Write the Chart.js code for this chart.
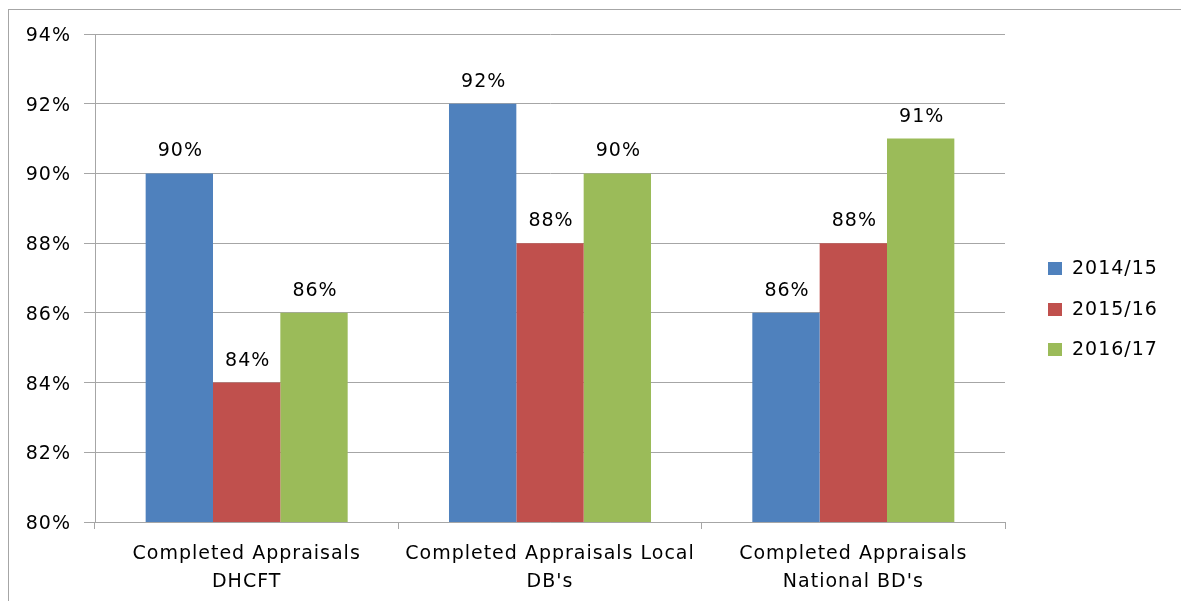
<!DOCTYPE html>
<html>
<head>
<meta charset="utf-8">
<script src="https://cdn.jsdelivr.net/npm/chart.js@4/dist/chart.umd.min.js"></script>
<style>
html,body{margin:0;padding:0;background:#fff;}
canvas{display:block;}
</style>
</head>
<body>
<canvas id="c" width="1181" height="601"></canvas>
<script>
const categories = [
  ["Completed Appraisals", "DHCFT"],
  ["Completed Appraisals Local", "DB's"],
  ["Completed Appraisals", "National BD's"]
];
const seriesNames = ["2014/15", "2015/16", "2016/17"];
const values2014 = [90, 92, 86];
const values2015 = [84, 88, 88];
const values2016 = [86, 90, 91];
const seriesColors = ["#4F81BD", "#C0504D", "#9BBB59"];
const yMin = 80, yMax = 94, yStep = 2;

const FONT = "'DejaVu Sans', Verdana, sans-serif";
const GRID = "#a6a6a6";
const TEXT = "#000";
const SPACING = '1px';

function setSpacing(chart){ try { chart.ctx.letterSpacing = SPACING; } catch(e){} }

const spacingPlugin = {
  id: 'spacing',
  beforeUpdate: setSpacing,
  beforeLayout: setSpacing,
  beforeDraw: setSpacing,
  afterDraw(chart){
    const ctx = chart.ctx;
    ctx.save();
    ctx.letterSpacing = SPACING;
    // outer frame
    ctx.strokeStyle = GRID;
    ctx.lineWidth = 1;
    ctx.strokeRect(8.5, 9.5, 1300, 800);
    // data labels
    ctx.font = "19px " + FONT;
    ctx.fillStyle = TEXT;
    ctx.textAlign = 'center';
    ctx.textBaseline = 'middle';
    chart.data.datasets.forEach((ds, i) => {
      const meta = chart.getDatasetMeta(i);
      meta.data.forEach((bar, j) => {
        ctx.fillText(ds.data[j] + '%', bar.x + 1, bar.y - 22);
      });
    });
    // legend
    ctx.textAlign = 'left';
    const ys = [268, 309, 349];
    chart.data.datasets.forEach((ds, i) => {
      ctx.fillStyle = ds.backgroundColor;
      ctx.fillRect(1048, ys[i] - 6, 14, 13);
      ctx.fillStyle = TEXT;
      ctx.fillText(ds.label, 1072, ys[i] + 1);
    });
    ctx.restore();
  }
};

const datasets = [values2014, values2015, values2016].map((v, i) => ({
  label: seriesNames[i],
  data: v,
  backgroundColor: seriesColors[i],
  borderWidth: 0,
  categoryPercentage: 0.666,
  barPercentage: 1.0
}));

new Chart(document.getElementById('c'), {
  type: 'bar',
  data: { labels: categories, datasets },
  plugins: [spacingPlugin],
  options: {
    responsive: false,
    animation: false,
    devicePixelRatio: 1,
    layout: { padding: { top: 34, right: 176, left: 0, bottom: 0 } },
    plugins: { legend: { display: false }, tooltip: { enabled: false } },
    scales: {
      x: {
        offset: true,
        grid: { offset: true, drawOnChartArea: false, drawTicks: true, tickLength: 7, color: GRID },
        border: { display: true, color: GRID },
        ticks: { color: TEXT, font: { family: FONT, size: 19, lineHeight: 1.47 }, padding: 11, maxRotation: 0, autoSkip: false },
        afterFit(scale){ scale.height = 79; }
      },
      y: {
        min: yMin, max: yMax,
        grid: { color: GRID, tickLength: 11 },
        border: { display: true, color: GRID },
        ticks: { stepSize: yStep, color: TEXT, font: { family: FONT, size: 19 }, padding: 13, labelOffset: 2,
          callback: v => v + '%' },
        afterFit(scale){ scale.width = 95; }
      }
    }
  }
});
</script>
</body>
</html>
